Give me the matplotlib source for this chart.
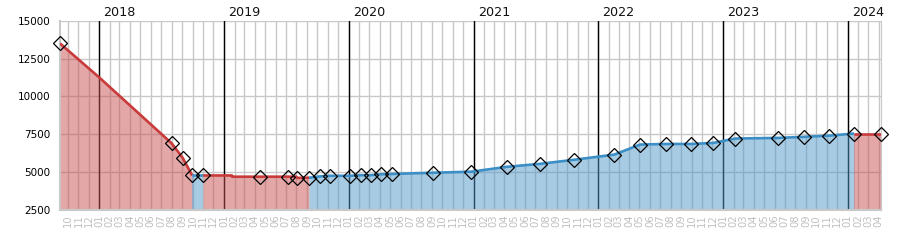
import matplotlib
matplotlib.use("Agg")
import matplotlib.pyplot as plt
import matplotlib.dates as mdates
import matplotlib.transforms as mtransforms
import numpy as np
import pandas as pd

# price line
line_dates = ["2017-09-08", "2018-01-01", "2018-08-01", "2018-09-02", "2018-09-30",
              "2018-11-01", "2019-01-24", "2019-01-25", "2019-08-01", "2019-08-04",
              "2019-09-07", "2019-10-10", "2019-11-07", "2020-01-04", "2020-02-05",
              "2020-03-06", "2020-04-05", "2020-05-07", "2020-09-04", "2020-12-25",
              "2021-04-08", "2021-07-15", "2021-10-23", "2022-02-17", "2022-05-03",
              "2022-07-17", "2022-09-29", "2022-12-04", "2023-02-06", "2023-06-12",
              "2023-08-26", "2023-11-08", "2024-01-20", "2024-04-06"]
line_values = [13500, 11250, 6900, 5950, 4780,
               4780, 4780, 4700, 4700, 4620,
               4630, 4720, 4760, 4760, 4800,
               4800, 4860, 4880, 4960, 5030,
               5350, 5550, 5820, 6160, 6820,
               6860, 6860, 6930, 7220, 7260,
               7330, 7410, 7550, 7550]

# diamond markers
marker_dates = ["2017-09-08", "2018-08-01", "2018-09-02", "2018-09-30", "2018-11-01",
                "2019-04-16", "2019-07-08", "2019-08-04", "2019-09-07", "2019-10-10",
                "2019-11-07", "2020-01-04", "2020-02-05", "2020-03-06", "2020-04-05",
                "2020-05-07", "2020-09-04", "2020-12-25", "2021-04-08", "2021-07-15",
                "2021-10-23", "2022-02-17", "2022-05-03", "2022-07-17", "2022-09-29",
                "2022-12-04", "2023-02-06", "2023-06-12", "2023-08-26", "2023-11-08",
                "2024-01-20", "2024-04-06"]
marker_values = [13500, 6900, 5950, 4780, 4780,
                 4700, 4700, 4620, 4630, 4720,
                 4760, 4760, 4800, 4800, 4860,
                 4880, 4960, 5030, 5350, 5550,
                 5820, 6160, 6820, 6860, 6860,
                 6930, 7220, 7260, 7330, 7410,
                 7550, 7550]

# coloured periods
segment_bounds = ["2017-09-08", "2018-09-30", "2018-11-01", "2019-09-07", "2024-01-20", "2024-04-06"]
segment_kinds = ["red", "blue", "red", "blue", "red"]

years = [2018, 2019, 2020, 2021, 2022, 2023, 2024]
y_ticks = [2500, 5000, 7500, 10000, 12500, 15000]

LINE_COLORS = {"red": "#c93a3a", "blue": "#3b8fc6"}
FILL_COLORS = {"red": "#c85050", "blue": "#5098c8"}

d = pd.to_datetime(line_dates)
v = np.array(line_values)

fig = plt.figure(figsize=(9, 2.5), dpi=100)
ax = fig.add_axes([60 / 900, 1 - 210 / 250, 820.5 / 900, 189.3 / 250])

for i, kind in enumerate(segment_kinds):
    start = pd.Timestamp(segment_bounds[i])
    end = pd.Timestamp(segment_bounds[i + 1])
    mask = (d >= start) & (d <= end)
    ax.fill_between(d[mask], v[mask], 2500, color=FILL_COLORS[kind], alpha=0.5, lw=0, zorder=2)
    ax.plot(d[mask], v[mask], color=LINE_COLORS[kind], lw=1.9, zorder=4, solid_capstyle="butt")

ax.plot(pd.to_datetime(marker_dates), marker_values, linestyle="none", marker="D",
        markersize=7.2, markerfacecolor="none", markeredgecolor="black", markeredgewidth=0.9,
        zorder=5, clip_on=False)

for yr in years:
    ax.axvline(pd.Timestamp(f"{yr}-01-01"), color="black", lw=1, zorder=1.5)

trans = mtransforms.blended_transform_factory(ax.transData, ax.transAxes)
for yr in years:
    ax.text(mdates.date2num(pd.Timestamp(f"{yr}-01-01")) + 12, 1.045, str(yr), transform=trans,
            ha="left", va="center", fontsize=9.2, color="#111111")

month_ticks = pd.date_range("2017-10-01", "2024-04-01", freq="MS")
ax.set_xticks(month_ticks)
ax.set_xticklabels([t.strftime("%m") for t in month_ticks], rotation=90, fontsize=7.2,
                   color="#c0c0c0")
ax.set_yticks(y_ticks)
ax.set_yticklabels([str(t) for t in y_ticks], fontsize=7.5)
ax.tick_params(axis="both", length=0)
ax.tick_params(axis="y", pad=7)
ax.tick_params(axis="x", pad=3)

ax.set_xlim(pd.Timestamp(segment_bounds[0]), pd.Timestamp(segment_bounds[-1]))
ax.set_ylim(2500, 15000)

ax.grid(True, color="#c8c8c8", lw=1)
ax.set_axisbelow(True)
for side in ["left", "bottom", "right", "top"]:
    ax.spines[side].set_color("#c8c8c8")
ax.spines["left"].set_linewidth(1.5)
ax.spines["bottom"].set_linewidth(1.5)
ax.spines["top"].set_visible(False)

fig.savefig("out.png", dpi=100)
